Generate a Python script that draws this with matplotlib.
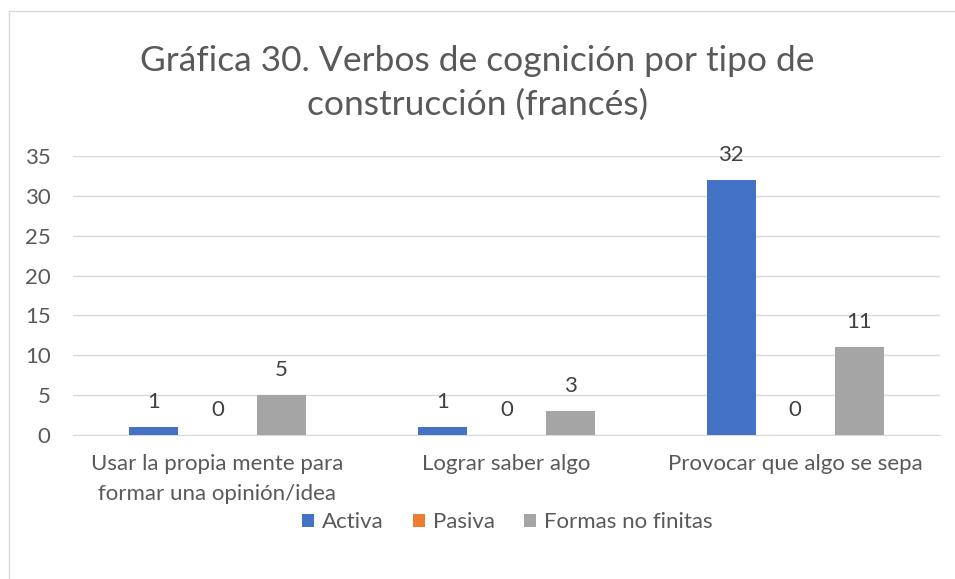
import numpy as np
import matplotlib.pyplot as plt

# Datos
categorias = ["Usar la propia mente para\nformar una opinión/idea", "Lograr saber algo", "Provocar que algo se sepa"]
activa = [1, 1, 32]
pasiva = [0, 0, 0]
no_finitas = [5, 3, 11]
series = ["Activa", "Pasiva", "Formas no finitas"]
colores = ["#4472C4", "#ED7D31", "#A5A5A5"]
yticks = [0, 5, 10, 15, 20, 25, 30, 35]

plt.rcParams['font.family'] = ['Lato', 'DejaVu Sans']
texto = "#595959"
fs = 16

fig = plt.figure(figsize=(9.55, 5.79), dpi=100)
ax = fig.add_axes([0.0764, 0.2487, 0.9076, 0.4819])

x = np.arange(len(categorias))
ancho = 0.17
desp = 0.222
for i, (vals, nombre, c) in enumerate(zip([activa, pasiva, no_finitas], series, colores)):
    pos = x + (i - 1) * desp
    ax.bar(pos, vals, width=ancho, color=c, label=nombre, zorder=3)
    for p, v in zip(pos, vals):
        ax.annotate(str(v), (p, v), xytext=(0, 25), textcoords="offset pixels",
                    ha="center", va="center", fontsize=fs, color="#404040")

ax.set_xlim(-0.5, 2.5)
ax.set_ylim(0, 35)
ax.set_yticks(yticks)
ax.set_xticks(x)
ax.set_xticklabels(categorias, fontsize=fs, color=texto, linespacing=1.65)
ax.tick_params(axis="y", labelsize=fs, labelcolor=texto, length=0, pad=16)
ax.tick_params(axis="x", length=0, pad=13.5)
ax.grid(axis="y", color="#D9D9D9", linewidth=1, zorder=0)
for s in ["top", "right", "left"]:
    ax.spines[s].set_visible(False)
ax.spines["bottom"].set_color("#D9D9D9")

fig.text(0.5, 0.894, "Gráfica 30. Verbos de cognición por tipo de", ha="center", va="center",
         fontsize=25.5, color=texto)
fig.text(0.5, 0.819, "construcción (francés)", ha="center", va="center",
         fontsize=25.5, color=texto)

fig.legend(loc="center", bbox_to_anchor=(0.531, 0.098), ncol=3, frameon=False,
           fontsize=fs, labelcolor=texto, handlelength=0.55, handleheight=0.55,
           handletextpad=0.35, columnspacing=1.3)

# borde del gráfico
fig.add_artist(plt.Line2D([9/955, 1], [1 - 11/579, 1 - 11/579], color="#D9D9D9", lw=1))
fig.add_artist(plt.Line2D([9/955, 9/955], [0, 1 - 11/579], color="#D9D9D9", lw=1))

fig.savefig("out.png", dpi=100)
